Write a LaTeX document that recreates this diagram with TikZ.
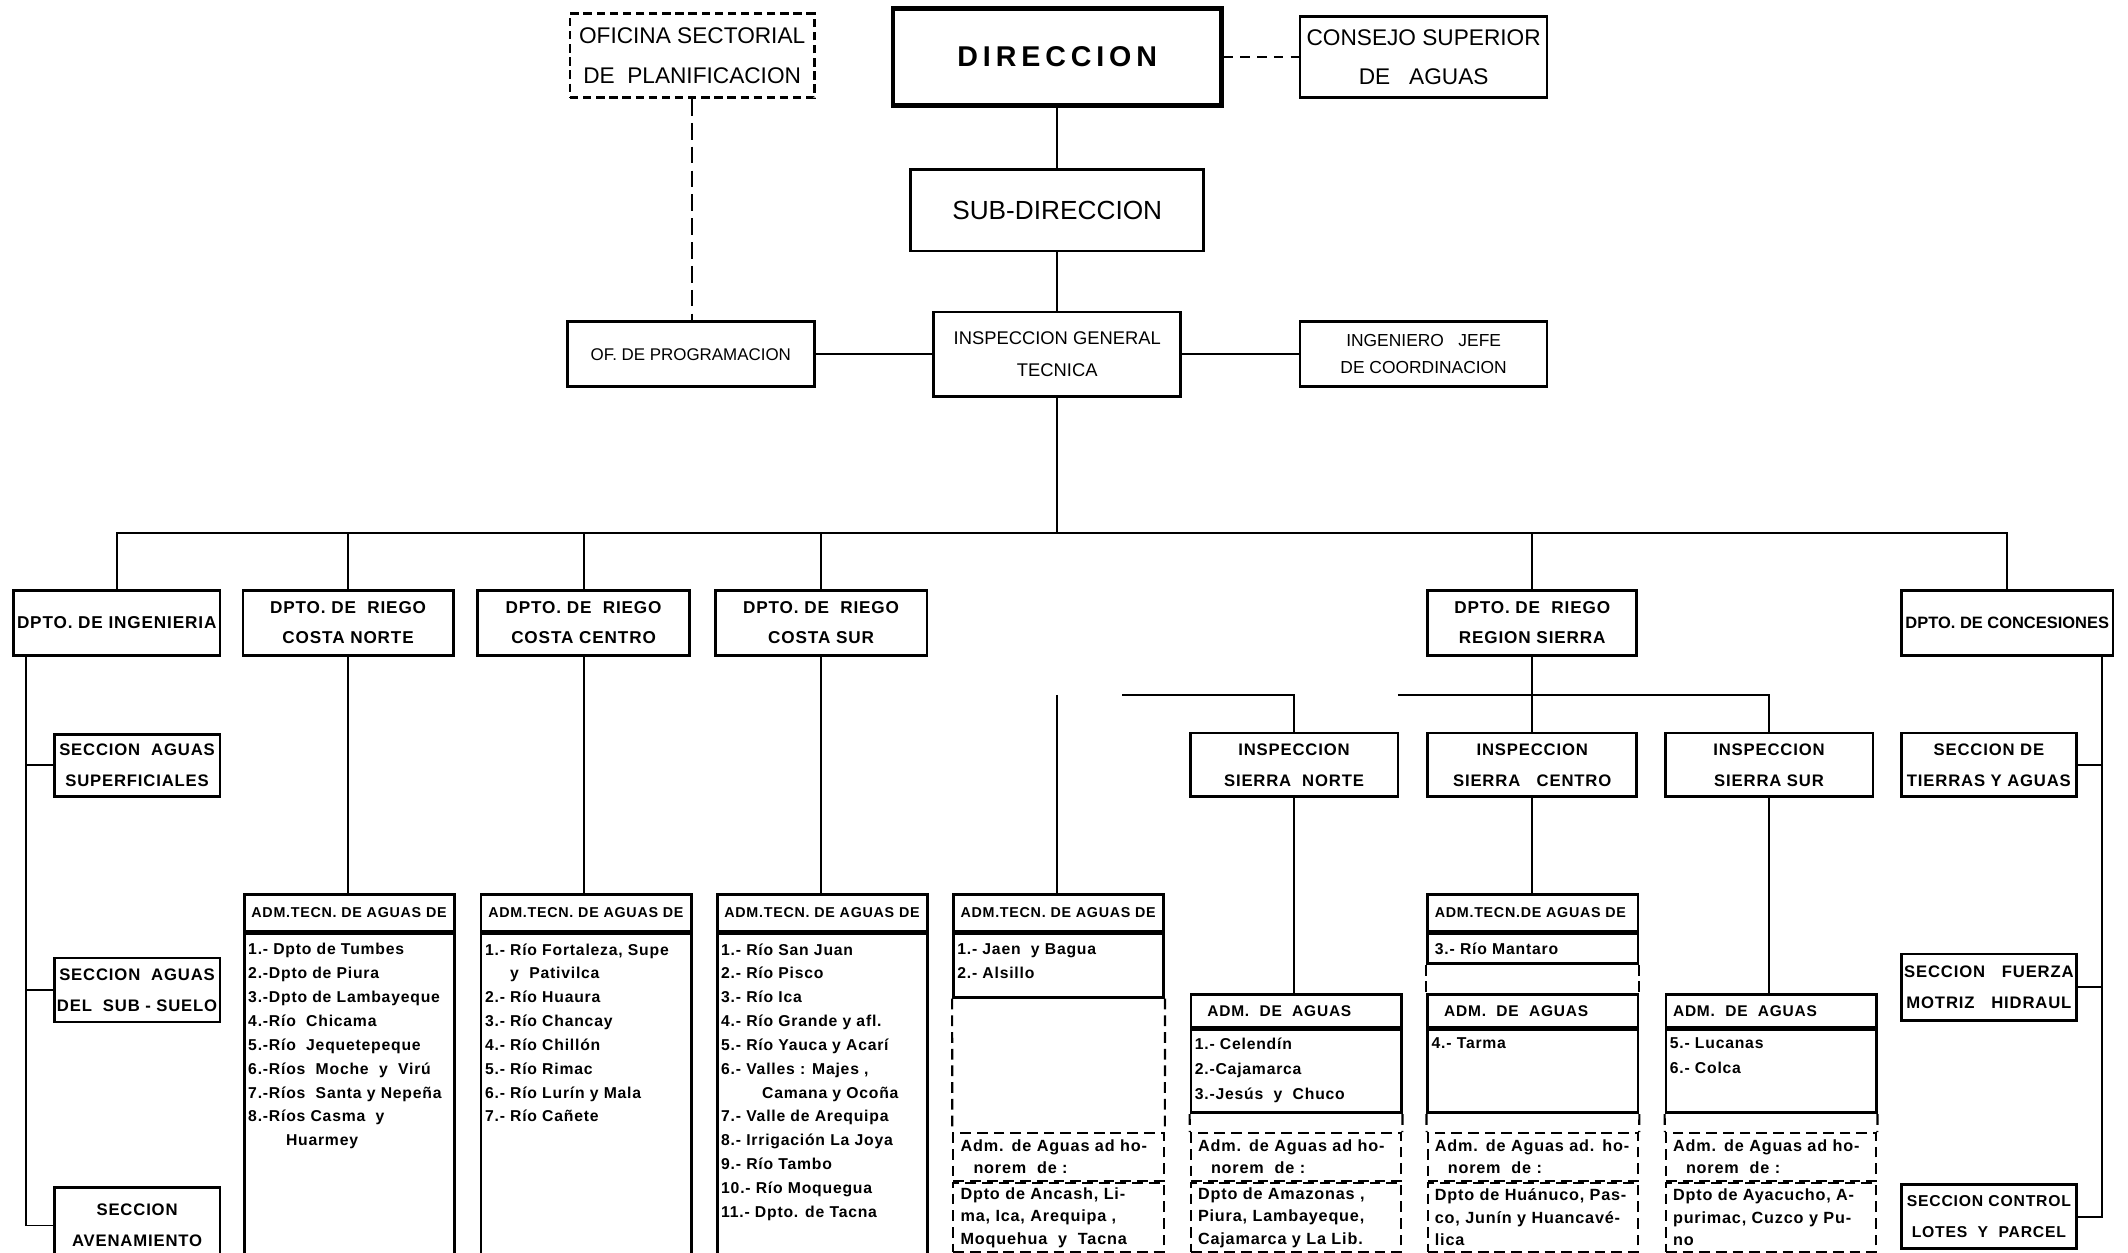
\documentclass[tikz,border=0pt]{standalone}
\usepackage{fontspec}
\setmainfont{Liberation Sans}
\newfontfamily\wfont[LetterSpace=5]{Liberation Sans}
\newfontfamily\dirfont[LetterSpace=17]{Liberation Sans}
\usepackage{tikz}
\usetikzlibrary{positioning}

\tikzset{
  box/.style={draw, line width=1.1pt, inner sep=1pt, align=center},
  topbox/.style={box, font=\fontsize{9.5}{16.5}\selectfont},
  dptbox/.style={box, font=\wfont\bfseries\fontsize{7.2}{12.5}\selectfont},
  secbox/.style={box, font=\wfont\bfseries\fontsize{7}{13}\selectfont},
  headbox/.style={box, inner xsep=3pt, text width=2.89cm, align=left, font=\wfont\bfseries\fontsize{6}{7}\selectfont},
  aguabox/.style={headbox, font=\wfont\bfseries\fontsize{6.5}{7}\selectfont},
  listbox/.style={inner sep=1pt, anchor=north west, align=left, font=\wfont\bfseries\fontsize{6.6}{10}\selectfont},
  honbox/.style={draw, line width=0.9pt, dash pattern=on 4.5pt off 2.5pt, inner xsep=3pt, inner ysep=1pt, text width=2.89cm, align=left, font=\wfont\bfseries\fontsize{6.8}{9.4}\selectfont},
  dside/.style={line width=0.9pt, dash pattern=on 4.5pt off 2.5pt},
  link/.style={line width=0.8pt},
}

\begin{document}
\begin{tikzpicture}[x=0.02cm, y=-0.02cm]
    \clip (0,0) rectangle (1568,923);
    \fill[white] (0,0) rectangle (1568,923);

    \node[topbox, dash pattern=on 3.5pt off 2pt, minimum width=3.6cm, minimum height=1.24cm] (ofsec) at (510,41) {OFICINA SECTORIAL\\DE\ \ PLANIFICACION};
    \node[box, line width=2pt, minimum width=4.84cm, minimum height=1.44cm, font=\dirfont\bfseries\fontsize{12}{14}\selectfont] (dir) at (779,42) {DIRECCION};
    \node[topbox, minimum width=3.64cm, minimum height=1.2cm] (consejo) at (1049,42) {CONSEJO SUPERIOR\\DE\ \ \ AGUAS};
    \node[box, minimum width=4.32cm, minimum height=1.2cm, font=\fontsize{11}{13}\selectfont] (subdir) at (779,155) {SUB-DIRECCION};
    \node[box, minimum width=3.64cm, minimum height=1.24cm, font=\fontsize{7.7}{13.7}\selectfont] (igt) at (779,261) {INSPECCION GENERAL\\TECNICA};
    \node[box, minimum width=3.64cm, minimum height=0.96cm, font=\fontsize{7.1}{9}\selectfont] (ofprog) at (509,261) {OF. DE PROGRAMACION};
    \node[box, minimum width=3.64cm, minimum height=0.96cm, font=\fontsize{7.3}{11.4}\selectfont] (jefe) at (1049,261) {INGENIERO\ \ \ JEFE\\DE COORDINACION};

    \draw[link, dash pattern=on 4pt off 3pt] (dir.east) -- (consejo.west);
    \draw[link, dash pattern=on 7pt off 3pt] (ofsec.south) -- (ofsec.south |- ofprog.north);
    \draw[link] (dir.south) -- (subdir.north);
    \draw[link] (subdir.south) -- (igt.north);
    \draw[link] (ofprog.east) -- (igt.west);
    \draw[link] (igt.east) -- (jefe.west);

    \node[dptbox, minimum width=3.04cm, minimum height=0.96cm, font=\wfont\bfseries\fontsize{7.2}{9}\selectfont] (ding) at (86,459) {DPTO. DE INGENIERIA};
    \node[dptbox, minimum width=3.1cm, minimum height=0.96cm] (cnorte) at (256.5,459) {DPTO.\ DE\ \ RIEGO\\COSTA NORTE};
    \node[dptbox, minimum width=3.12cm, minimum height=0.96cm] (ccentro) at (430,459) {DPTO.\ DE\ \ RIEGO\\COSTA CENTRO};
    \node[dptbox, minimum width=3.12cm, minimum height=0.96cm] (csur) at (605,459) {DPTO.\ DE\ \ RIEGO\\COSTA SUR};
    \node[dptbox, minimum width=3.08cm, minimum height=0.96cm] (rsierra) at (1129,459) {DPTO.\ DE\ \ RIEGO\\REGION SIERRA};
    \node[dptbox, minimum width=3.12cm, minimum height=0.96cm, font=\bfseries\fontsize{6.9}{9}\selectfont] (conces) at (1479,459) {DPTO. DE CONCESIONES};

    \coordinate (bus) at (779,393);
    \draw[link] (igt.south) -- (bus);
    \draw[link] (ding.north) |- (bus) -| (conces.north);
    \draw[link] (cnorte.north) -- (cnorte.north |- bus);
    \draw[link] (ccentro.north) -- (ccentro.north |- bus);
    \draw[link] (csur.north) -- (csur.north |- bus);
    \draw[link] (rsierra.north) -- (rsierra.north |- bus);

    \node[secbox, minimum width=2.44cm, minimum height=0.92cm] (ssup) at (101,564) {SECCION\ \ AGUAS\\SUPERFICIALES};
    \node[secbox, minimum width=2.44cm, minimum height=0.94cm] (ssub) at (101,729.5) {SECCION\ \ AGUAS\\DEL\ \ SUB - SUELO};
    \node[secbox, minimum width=2.44cm, minimum height=1.12cm] (saven) at (101,903) {SECCION\\AVENAMIENTO};
    \coordinate (ingsp) at ([xshift=0.2cm]ding.south west);
    \draw[link] (ingsp) |- (saven.west);
    \draw[link] (ssup.west) -- (ssup.west -| ingsp);
    \draw[link] (ssub.west) -- (ssub.west -| ingsp);

    \node[secbox, minimum width=2.58cm, minimum height=0.94cm] (tierras) at (1465.5,563.5) {SECCION DE\\TIERRAS Y AGUAS};
    \node[secbox, minimum width=2.58cm, minimum height=0.98cm] (fuerza) at (1465.5,727.5) {SECCION\quad FUERZA\\MOTRIZ\quad HIDRAUL};
    \node[secbox, minimum width=2.58cm, minimum height=0.94cm, font=\wfont\bfseries\fontsize{6.6}{13}\selectfont] (control) at (1465.5,896.5) {SECCION CONTROL\\LOTES\ \ Y\ \ PARCEL};
    \coordinate (consp) at ([xshift=-0.18cm]conces.south east);
    \draw[link] (consp) |- (control.east);
    \draw[link] (tierras.east) -- (tierras.east -| consp);
    \draw[link] (fuerza.east) -- (fuerza.east -| consp);

    \node[headbox, minimum height=0.54cm] (cnadm) at (257.5,672.5) {ADM.TECN. DE AGUAS DE};
    \node[box, minimum width=3.1cm, minimum height=5.2cm, anchor=north] (cnbody) at (cnadm.south) {};
    \node[listbox] (cnlist) at ([xshift=1pt, yshift=-3.5pt]cnbody.north west) {1.- Dpto de Tumbes\\2.-Dpto de Piura\\3.-Dpto de Lambayeque\\4.-Río\ \ Chicama\\5.-Río\ \ Jequetepeque\\6.-Ríos\ \ Moche\ \ y\ \ Virú\\7.-Ríos\ \ Santa y Nepeña\\8.-Ríos Casma\ \ y\\\hspace*{2.4em}Huarmey};
    \draw[link] (cnorte.south) -- (cnorte.south |- cnadm.north);

    \node[headbox, minimum height=0.54cm] (ccadm) at (432,672.5) {ADM.TECN. DE AGUAS DE};
    \node[box, minimum width=3.1cm, minimum height=5.2cm, anchor=north] (ccbody) at (ccadm.south) {};
    \node[listbox] (cclist) at ([xshift=1pt, yshift=-3.5pt]ccbody.north west) {1.- Río Fortaleza, Supe\\\hspace*{1.6em}y\ \ Pativilca\\2.- Río Huaura\\3.- Río Chancay\\4.- Río Chillón\\5.- Río Rimac\\6.- Río Lurín y Mala\\7.- Río Cañete};
    \draw[link] (ccentro.south) -- (ccentro.south |- ccadm.north);

    \node[headbox, minimum height=0.54cm] (csadm) at (606,672.5) {ADM.TECN. DE AGUAS DE};
    \node[box, minimum width=3.1cm, minimum height=5.2cm, anchor=north] (csbody) at (csadm.south) {};
    \node[listbox] (cslist) at ([xshift=1pt, yshift=-3.5pt]csbody.north west) {1.- Río San Juan\\2.- Río Pisco\\3.- Río Ica\\4.- Río Grande y afl.\\5.- Río Yauca y Acarí\\6.- Valles : Majes ,\\\hspace*{2.6em}Camana y Ocoña\\7.- Valle de Arequipa\\8.- Irrigación La Joya\\9.- Río Tambo\\10.- Río Moquegua\\11.- Dpto. de Tacna};
    \draw[link] (csur.south) -- (csur.south |- csadm.north);

    \node[headbox, minimum height=0.54cm] (jnadm) at (780,672.5) {ADM.TECN. DE AGUAS DE};
    \node[box, minimum width=3.1cm, minimum height=0.94cm, anchor=north] (jnbody) at (jnadm.south) {};
    \node[listbox] (jnlist) at ([xshift=1pt, yshift=-3.5pt]jnbody.north west) {1.- Jaen\ \ y\ Bagua\\2.- Alsillo};
    \node[honbox, minimum height=0.7cm] (jnhon) at (780,852.5) {Adm. de Aguas ad ho-\\\hspace*{0.8em}norem\ \ de :};
    \node[honbox, minimum height=1.02cm, anchor=north] (jndpto) at (jnhon.south) {Dpto de Ancash, Li-\\ma, Ica, Arequipa ,\\Moquehua\ \ y\ \ Tacna};
    \draw[dside] (jnbody.south west) -- (jnhon.north west);
    \draw[dside] (jnbody.south east) -- (jnhon.north east);
    \coordinate (jtop) at (779,512);
    \draw[link] (jtop) -- (jtop |- jnadm.north);

    \node[secbox, minimum width=3.06cm, minimum height=0.94cm] (sninsp) at (953.5,563.5) {INSPECCION\\SIERRA\ \ NORTE};
    \node[secbox, minimum width=3.08cm, minimum height=0.94cm] (scinsp) at (1129,563.5) {INSPECCION\\SIERRA\ \ \ CENTRO};
    \node[secbox, minimum width=3.06cm, minimum height=0.94cm] (ssinsp) at (1303.5,563.5) {INSPECCION\\SIERRA SUR};
    \coordinate (snleft) at (827,512);
    \coordinate (ssleft) at (1030,512);
    \draw[link] (rsierra.south) -- (scinsp.north);
    \draw[link] (snleft) -| (sninsp.north);
    \draw[link] (ssleft) -| (ssinsp.north);

    \node[aguabox, minimum height=0.48cm] (snagua) at (955,745) {\hspace*{0.6em}ADM.\ \ DE\ \ AGUAS};
    \node[box, minimum width=3.1cm, minimum height=1.22cm, anchor=north] (snbody) at (snagua.south) {};
    \node[listbox, font=\wfont\bfseries\fontsize{6.6}{10.5}\selectfont] (snlist) at ([xshift=1pt, yshift=-2.5pt]snbody.north west) {1.- Celendín\\2.-Cajamarca\\3.-Jesús\ \ y\ \ Chuco};
    \node[honbox, minimum height=0.7cm] (snhon) at (955,852.5) {Adm. de Aguas ad ho-\\\hspace*{0.8em}norem\ \ de :};
    \node[honbox, minimum height=1.02cm, anchor=north] (sndpto) at (snhon.south) {Dpto de Amazonas ,\\Piura, Lambayeque,\\Cajamarca\ y La Lib.};
    \draw[dside] (snbody.south west) -- (snhon.north west);
    \draw[dside] (snbody.south east) -- (snhon.north east);
    \draw[link] (sninsp.south) -- (sninsp.south |- snagua.north);

    \node[headbox, minimum height=0.54cm] (scadm) at (1129.5,672.5) {ADM.TECN.DE AGUAS DE};
    \node[headbox, minimum height=0.44cm, anchor=north, font=\wfont\bfseries\fontsize{6.6}{8}\selectfont] (scbody) at (scadm.south) {3.- Río Mantaro};
    \node[aguabox, minimum height=0.48cm] (scagua) at (1129.5,745) {\hspace*{0.6em}ADM.\ \ DE\ \ AGUAS};
    \node[box, minimum width=3.1cm, minimum height=1.22cm, anchor=north] (scbody2) at (scagua.south) {};
    \node[listbox] (sclist) at ([xshift=1pt, yshift=-2.5pt]scbody2.north west) {4.- Tarma};
    \node[honbox, minimum height=0.7cm] (schon) at (1129.5,852.5) {Adm. de Aguas ad. ho-\\\hspace*{0.8em}norem\ \ de :};
    \node[honbox, minimum height=1.02cm, anchor=north] (scdpto) at (schon.south) {Dpto de Huánuco, Pas-\\co, Junín y Huancavé-\\lica};
    \draw[dside] (scbody.south west) -- (scagua.north west);
    \draw[dside] (scbody.south east) -- (scagua.north east);
    \draw[dside] (scbody2.south west) -- (schon.north west);
    \draw[dside] (scbody2.south east) -- (schon.north east);
    \draw[link] (scinsp.south) -- (scinsp.south |- scadm.north);

    \node[aguabox, minimum height=0.48cm] (ssagua) at (1305,745) {ADM.\ \ DE\ \ AGUAS};
    \node[box, minimum width=3.1cm, minimum height=1.22cm, anchor=north] (ssbody) at (ssagua.south) {};
    \node[listbox, font=\wfont\bfseries\fontsize{6.6}{10.5}\selectfont] (sslist) at ([xshift=1pt, yshift=-2.5pt]ssbody.north west) {5.- Lucanas\\6.- Colca};
    \node[honbox, minimum height=0.7cm] (sshon) at (1305,852.5) {Adm. de Aguas ad ho-\\\hspace*{0.8em}norem\ \ de :};
    \node[honbox, minimum height=1.02cm, anchor=north] (ssdpto) at (sshon.south) {Dpto de Ayacucho, A-\\purimac, Cuzco y Pu-\\no};
    \draw[dside] (ssbody.south west) -- (sshon.north west);
    \draw[dside] (ssbody.south east) -- (sshon.north east);
    \draw[link] (ssinsp.south) -- (ssinsp.south |- ssagua.north);
\end{tikzpicture}
\end{document}
